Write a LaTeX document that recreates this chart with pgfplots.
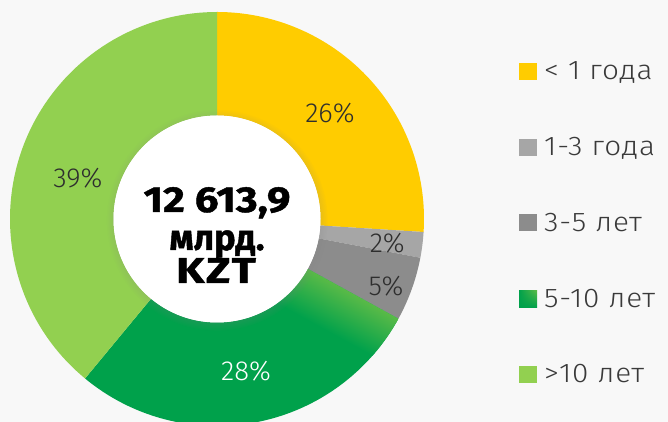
\documentclass[border=0pt]{standalone}
\usepackage{fontspec}
\setmainfont{Fira Sans Light}
\newfontfamily\legfont{Fira Sans Light}[LetterSpace=3, FakeStretch=1.1]
\newfontfamily\heavyfont{Fira Sans}[BoldFeatures={FakeBold=1.2}]
\newfontfamily\heavywide{Fira Sans}[BoldFeatures={FakeBold=1.2, FakeStretch=1.17}]
\newfontfamily\heavyxwide{Fira Sans}[BoldFeatures={FakeBold=1.2, FakeStretch=1.25}, LetterSpace=4]
\usepackage{pgfplots}
\usepackage{pgfplotstable}
\pgfplotsset{compat=1.18}
\usetikzlibrary{shadows,shadings}

\definecolor{cBg}{HTML}{F8F8F8}
\definecolor{cYellow}{HTML}{FFCC00}
\definecolor{cLGray}{HTML}{A6A6A6}
\definecolor{cDGray}{HTML}{8C8C8C}
\definecolor{cGreen}{HTML}{00A14B}
\definecolor{cGreenL}{HTML}{5DBB47}
\definecolor{cLime}{HTML}{92D050}
\definecolor{cText}{HTML}{2E2E2E}
\definecolor{cLeg}{HTML}{3A3A3A}

% share of portfolio by maturity; lr/lo = label radius / angle tweak
\pgfplotstableread[col sep=comma]{
name,value,col,lr,lo,lc
< 1 года,26,cYellow,155,0,cText
1-3 года,2,cLGray,172,-1,cText
3-5 лет,5,cDGray,182,-2,cText
5-10 лет,28,cGreen,155,0,white
>10 лет,39,cLime,145,3.4,cText
}\shares

% angles, clockwise from the top
\xdef\acc{90}
\pgfplotsforeachungrouped \i in {0,...,4}{%
  \pgfplotstablegetelem{\i}{value}\of\shares \let\val\pgfplotsretval
  \pgfmathsetmacro\aend{\acc-3.6*\val}%
  \expandafter\xdef\csname sa\i\endcsname{\acc}%
  \expandafter\xdef\csname ea\i\endcsname{\aend}%
  \expandafter\xdef\csname pc\i\endcsname{\val}%
  \pgfplotstablegetelem{\i}{lr}\of\shares \let\lr\pgfplotsretval
  \pgfplotstablegetelem{\i}{lo}\of\shares \let\lo\pgfplotsretval
  \pgfmathsetmacro\lx{\lr*cos((\acc+\aend)/2+\lo)}%
  \pgfmathsetmacro\ly{\lr*sin((\acc+\aend)/2+\lo)}%
  \expandafter\xdef\csname lx\i\endcsname{\lx}%
  \expandafter\xdef\csname ly\i\endcsname{\ly}%
  \pgfplotstablegetelem{\i}{col}\of\shares
  \expandafter\xdef\csname cl\i\endcsname{\pgfplotsretval}%
  \pgfplotstablegetelem{\i}{lc}\of\shares
  \expandafter\xdef\csname tc\i\endcsname{\pgfplotsretval}%
  \pgfplotstablegetelem{\i}{name}\of\shares
  \expandafter\xdef\csname nm\i\endcsname{\pgfplotsretval}%
  \xdef\acc{\aend}%
}

\def\Ro{207}
\def\Ri{103.5}

\begin{document}
\begin{tikzpicture}
\begin{axis}[
  x=1pt, y=1pt,
  xmin=-217, xmax=451, ymin=-203, ymax=219,
  hide axis,
]
\fill[cBg] (axis cs:-217,-203) rectangle (axis cs:451,219);

% ring sectors
\pgfplotsinvokeforeach{0,...,4}{
  \edef\temp{\noexpand\fill[\csname cl#1\endcsname]
    (axis cs:{\Ro*cos(\csname sa#1\endcsname)},{\Ro*sin(\csname sa#1\endcsname)})
    arc[start angle=\csname sa#1\endcsname, end angle=\csname ea#1\endcsname, radius=\Ro pt]
    -- (axis cs:{\Ri*cos(\csname ea#1\endcsname)},{\Ri*sin(\csname ea#1\endcsname)})
    arc[start angle=\csname ea#1\endcsname, end angle=\csname sa#1\endcsname, radius=\Ri pt]
    -- cycle;}
  \temp
}

% lighter green glow along the 3-5 / 5-10 border
\edef\temp{\noexpand\begin{scope}
  \noexpand\clip
    (axis cs:{\Ro*cos(\csname sa3\endcsname)},{\Ro*sin(\csname sa3\endcsname)})
    arc[start angle=\csname sa3\endcsname, end angle=\csname ea3\endcsname, radius=\Ro pt]
    -- (axis cs:{\Ri*cos(\csname ea3\endcsname)},{\Ri*sin(\csname ea3\endcsname)})
    arc[start angle=\csname ea3\endcsname, end angle=\csname sa3\endcsname, radius=\Ri pt]
    -- cycle;
  \noexpand\begin{scope}[transform canvas={rotate around={\csname sa3\endcsname:(axis cs:0,0)}}]
  \noexpand\shade[top color=cGreenL, bottom color=cGreen] (axis cs:90,-45) rectangle (axis cs:215,2);
  \noexpand\end{scope}
  \noexpand\end{scope}}
\temp

% hole
\fill[white, circular drop shadow={shadow xshift=0pt, shadow yshift=-1pt,
  shadow scale=1.07, opacity=0.35}] (axis cs:0,0) circle[radius=\Ri pt];

% percentage labels
\pgfplotsinvokeforeach{0,...,4}{
  \edef\temp{\noexpand\node[text=\csname tc#1\endcsname, font=\noexpand\fontsize{27.5}{30}\noexpand\selectfont]
    at (axis cs:\csname lx#1\endcsname,\csname ly#1\endcsname) {\csname pc#1\endcsname\noexpand\%};}
  \temp
}

% total in the centre
\node[anchor=base, inner sep=0pt, font=\heavywide\bfseries\fontsize{36}{36}\selectfont] at (axis cs:0,7) {12 613,9};
\node[anchor=base, inner sep=0pt, font=\heavyfont\bfseries\fontsize{36}{36}\selectfont] at (axis cs:0,-31) {млрд.};
\node[anchor=base, inner sep=0pt, font=\heavyxwide\bfseries\fontsize{36}{36}\selectfont] at (axis cs:-1,-64) {KZT};

% legend
\pgfplotsinvokeforeach{0,...,4}{
  \pgfmathsetmacro\by{139-75.75*#1}
  \ifnum#1=3
    \edef\temp{\noexpand\shade[upper right=cGreenL, lower left=cGreen, upper left=cGreen, lower right=cGreen]
      (axis cs:302,\by) rectangle (axis cs:320,\by+17);}
  \else
    \edef\temp{\noexpand\fill[\csname cl#1\endcsname] (axis cs:302,\by) rectangle (axis cs:320,\by+17);}
  \fi
  \temp
  \edef\temp{\noexpand\node[anchor=base west, inner sep=0pt, text=cLeg, font=\noexpand\legfont\noexpand\fontsize{27}{30}\noexpand\selectfont]
    at (axis cs:327,\by) {\csname nm#1\endcsname};}
  \temp
}
\end{axis}
\pgfresetboundingbox
\useasboundingbox (0,0) rectangle (668pt,422pt);
\end{tikzpicture}
\end{document}
